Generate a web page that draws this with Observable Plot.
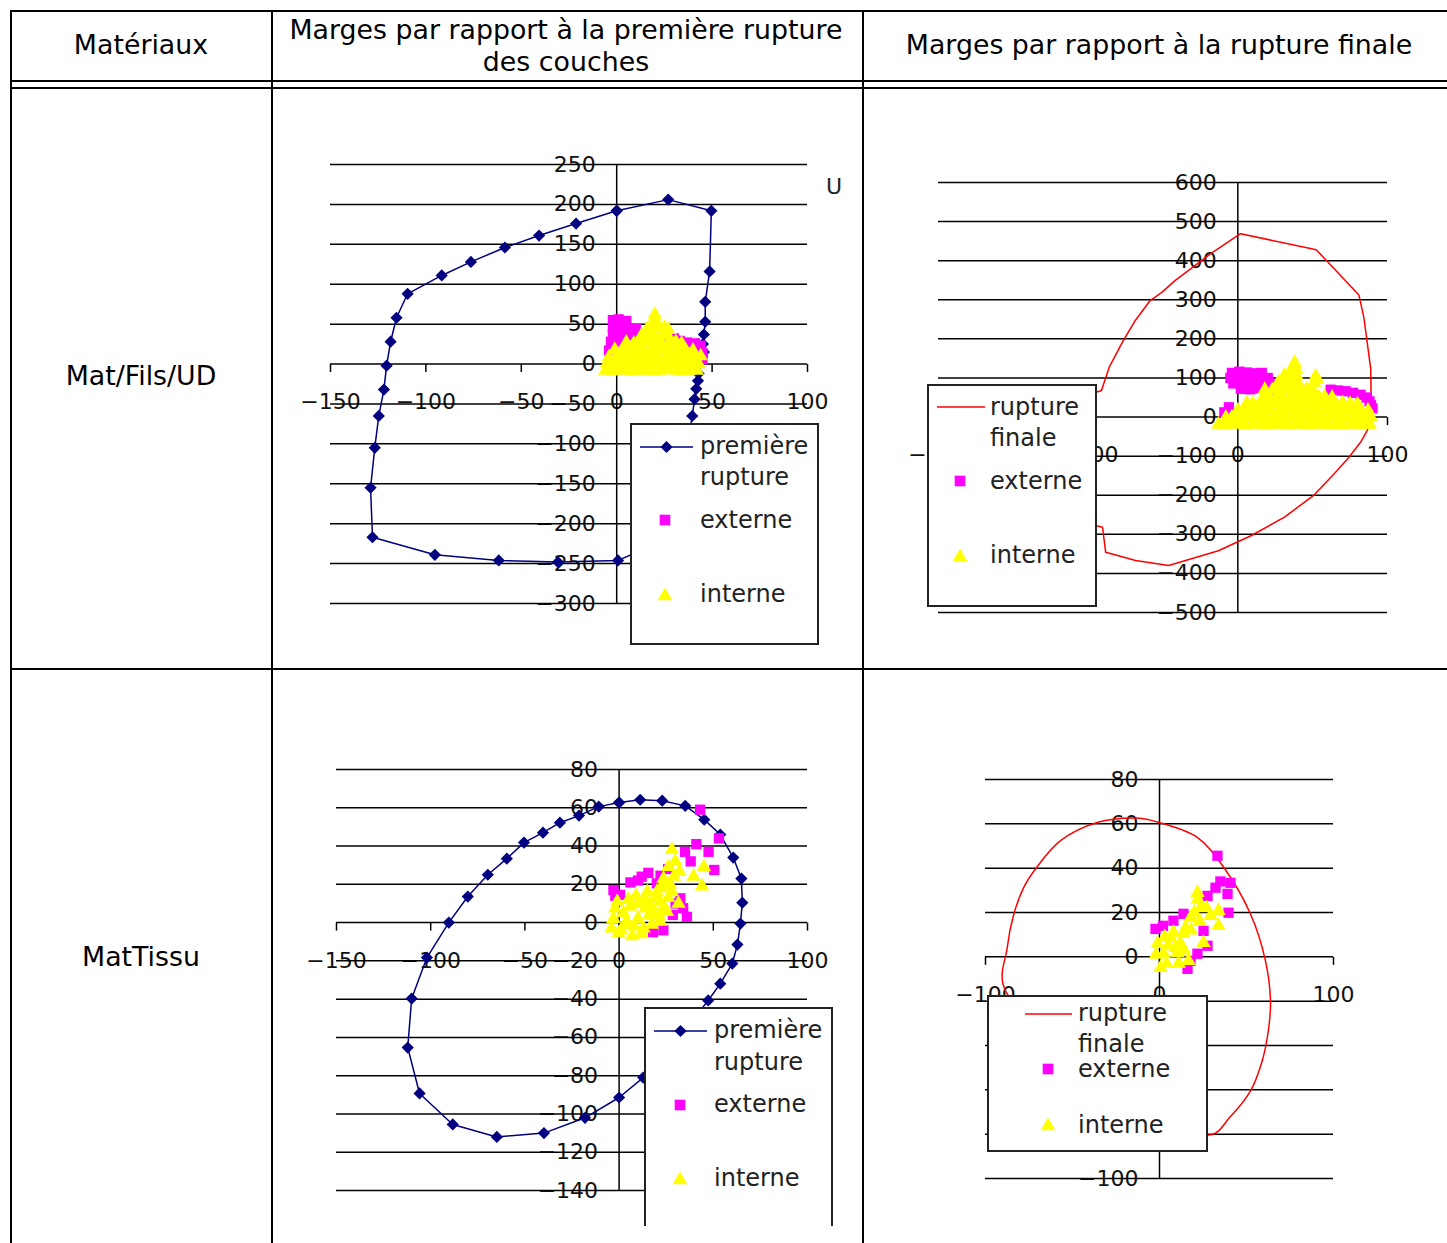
<!DOCTYPE html>
<html>
<head>
<meta charset="utf-8">
<script src="https://cdn.jsdelivr.net/npm/d3@7"></script>
<script src="https://cdn.jsdelivr.net/npm/@observablehq/plot@0.6"></script>
<style>
  body { margin: 0; background: #fff; }
  #page { position: relative; width: 1447px; height: 1243px; overflow: hidden; background: #fff;
          font-family: "DejaVu Sans", Verdana, sans-serif; color: #000; }
  .rule { position: absolute; background: #000; }
  .cell { position: absolute; font-size: 26.8px; line-height: 32px; text-align: center; white-space: nowrap;
          transform: translate(-50%, -50%); }
  .chart, .legend { position: absolute; }
</style>
</head>
<body>
<div id="page"></div>
<script>
// ---------- table text ----------
const headers = ["Matériaux", "Marges par rapport à la première rupture\ndes couches", "Marges par rapport à la rupture finale"];
const materials = ["Mat/Fils/UD", "MatTissu"];

// ---------- Mat/Fils/UD : première rupture ----------
const xTicks1 = [-150, -100, -50, 0, 50, 100];
const yTicks1 = [250, 200, 150, 100, 50, 0, -50, -100, -150, -200, -250, -300];
const premiere1 = [
  [0, 192], [27, 206], [49.6, 192], [48.7, 116], [46.4, 78], [46.4, 53], [45.7, 37], [45.2, 25],
  [45.7, 15], [42.9, -12], [42.6, -21], [41.7, -31], [40.8, -44], [39.6, -65], [34, -150], [24, -222],
  [0.7, -246], [-30.8, -248], [-61.8, -246], [-95.3, -239], [-128, -217], [-129, -155], [-126.8, -105],
  [-124.7, -65], [-122, -32], [-120.6, -2], [-118.5, 28], [-115.4, 58], [-109.6, 88], [-91.7, 111],
  [-76.4, 128], [-58.6, 146], [-40.7, 161], [-21.3, 176], [0, 192]
];
const externe1 = [
  [-2, 55], [1, 56], [5, 54], [-2, 46], [2, 46], [6, 45], [10, 44], [-2, 37], [1, 37], [5, 36], [9, 37],
  [12, 35], [-3, 28], [1, 28], [4, 29], [12, 28], [-4, 17], [18, 30], [23, 25], [30, 32], [33, 29],
  [37, 27], [41, 26], [44, 23], [45, 14], [45, 6]
];
const interne1 = [
  [-6, -8], [-2, -9], [1, -8], [5, -7], [8, -9], [12, -8], [16, -8], [20, -9], [23, -8], [27, -7], [31, -8], [34, -9], [38, -8], [42, -8],
  [-5, 1], [-1, 1], [2, 0], [6, 1], [10, 2], [13, 1], [17, 0], [21, 1], [24, 2], [28, 1], [32, 0], [35, 1], [39, 1], [43, 0],
  [-4, 9], [0, 10], [4, 9], [8, 8], [11, 9], [15, 10], [19, 9], [22, 8], [26, 9], [30, 10], [33, 9], [37, 8], [41, 9], [44, 10],
  [-1, 18], [3, 17], [7, 18], [10, 19], [14, 18], [18, 17], [21, 18], [25, 19], [28, 18], [32, 17], [36, 18], [40, 17],
  [5, 27], [9, 26], [12, 27], [16, 28], [20, 27], [23, 26], [27, 27], [31, 28], [34, 26],
  [13, 36], [16, 35], [20, 36], [24, 37], [27, 35],
  [16, 44], [20, 45], [25, 46], [27, 43],
  [19, 53], [21, 52],
  [20, 62]
];

// ---------- Mat/Fils/UD : rupture finale ----------
const xTicks2 = [-200, -100, 0, 100];
const yTicks2 = [600, 500, 400, 300, 200, 100, 0, -100, -200, -300, -400, -500];
const finale1 = [
  [1.8, 469], [52.4, 428], [80.9, 312], [84.2, 255], [88.8, 123], [89.2, 1], [86.5, -34], [82.1, -64],
  [74.3, -103], [64.4, -145], [51.1, -199], [31.2, -256], [9.1, -303], [-13, -342], [-46.2, -380],
  [-68.3, -367], [-88.3, -346], [-90.4, -282], [-120, -255], [-140, -120], [-130, 20], [-91.1, 68],
  [-86, 127], [-77.2, 191], [-68.5, 247], [-58.6, 298], [-50.8, 319], [-42, 349], [-18.1, 418], [1.8, 469]
];
const externe2 = [
  [-4, 113], [1, 116], [6, 114], [11, 112], [16, 113],
  [-5, 100], [0, 99], [5, 101], [10, 100], [15, 98], [20, 100],
  [-3, 86], [2, 85], [7, 87], [12, 86], [18, 84], [22, 86],
  [2, 72], [8, 71], [14, 73], [20, 72], [25, 70],
  [24, 58], [27, 55], [-6, 25], [-9, 12],
  [62, 70], [67, 68], [72, 66], [77, 62], [82, 57], [86, 50], [88, 40], [89, 30], [90, 22]
];
const interne2 = [
  [-13, -19], [-9, -20], [-4, -18], [1, -19], [5, -21], [10, -19], [15, -18], [19, -20], [24, -19], [29, -18], [33, -20], [38, -19],
  [42, -18], [47, -20], [52, -19], [56, -18], [61, -20], [66, -19], [70, -21], [75, -19], [80, -18], [84, -20], [88, -19],
  [-8, -1], [-4, 0], [1, -2], [5, -1], [10, 0], [15, -1], [19, -2], [24, -1], [29, 0], [33, -1], [38, -2],
  [42, -1], [47, 0], [52, -1], [56, -2], [61, -1], [66, 0], [70, -1], [75, -2], [80, -1], [84, 0], [89, -1],
  [0, 17], [4, 18], [9, 16], [13, 17], [18, 18], [22, 17], [27, 16], [31, 17], [36, 18], [41, 17],
  [45, 16], [50, 17], [54, 18], [59, 17], [64, 16], [68, 17], [73, 18], [77, 17], [82, 16], [87, 17],
  [6, 35], [10, 34], [15, 36], [19, 35], [24, 34], [28, 35], [33, 36], [38, 35], [42, 34],
  [47, 35], [51, 36], [56, 35], [61, 34], [65, 35], [70, 36], [75, 34], [80, 33],
  [17, 52], [21, 51], [26, 53], [30, 52], [35, 51], [40, 52], [44, 53], [49, 52], [54, 51], [58, 52], [63, 50],
  [18, 70], [23, 69], [27, 71], [32, 70], [36, 69], [41, 70], [46, 71], [50, 69],
  [27, 88], [31, 87], [36, 89], [40, 88], [51, 88], [53, 96],
  [31, 106], [35, 105], [39, 107], [52, 104],
  [36, 124], [39, 122],
  [38, 139]
];

// ---------- MatTissu : première rupture ----------
const xTicks3 = [-150, -100, -50, 0, 50, 100];
const yTicks3 = [80, 60, 40, 20, 0, -20, -40, -60, -80, -100, -120, -140];
const premiere2 = [
  [0, 62.7], [11.2, 64.2], [22.9, 63.7], [35.1, 61], [45.2, 53.8], [53.7, 46], [60.6, 34], [64.9, 23],
  [65.4, 10.4], [64.4, -0.5], [62.8, -11.5], [60.1, -21.4], [53.7, -31.9], [47.3, -40.7], [30, -62],
  [12.8, -81], [0, -91.4], [-18.1, -102], [-39.9, -110], [-64.9, -112], [-88.3, -105.5], [-105.9, -89.3],
  [-112.2, -65.3], [-110.1, -39.7], [-102, -18.3], [-90.4, 0], [-80.3, 13.6], [-69.7, 25], [-59.6, 33.4],
  [-50.5, 41.8], [-40.4, 47], [-31.4, 52.2], [-21.3, 55.9], [-10.8, 60.6], [0, 62.7]
];
const externe3 = [
  [43, 59], [41, 41], [53, 44], [47.5, 37], [35, 37], [38, 32], [50.5, 27.5], [-3, 17], [10, 22], [15.5, 26],
  [22, 24.5], [34, 7.5], [28.5, 4], [23.5, -4], [0.5, 14.5], [32.5, 12.7], [20, 20.5], [6, 21], [-2, 14],
  [18, -5], [30, 10], [26, 28], [12, 24], [36, 3]
];
const interne3 = [
  [28, 38], [29.8, 32], [32, 26.6], [45, 29], [44, 19], [39.5, 24], [23.6, 23], [20, 16], [28, 16], [31.5, 10],
  [6, 8.4], [-2, 7.5], [-0.4, -5.6], [10, 2], [17.4, -1], [4, 0.5], [13.8, 7.5], [21.8, 11], [25.4, 5.7],
  [21.8, 0.5], [13, -3], [2.3, 5], [24.5, 19.7], [26.2, 29.2], [5, 12], [9, 14], [14, 12], [17, 9], [8, -2],
  [3, -1], [-3, 2], [-4, -3], [16, 4], [12, -6], [7, -7], [21, 4], [24, 8], [19, 13], [26, 13], [27, 20], [-1, 11],
  [10, 10], [15, 16], [18, 5], [1, -4], [29, 24], [22, 18]
];

// ---------- MatTissu : rupture finale ----------
const xTicks4 = [-100, 0, 100];
const yTicks4 = [80, 60, 40, 20, 0, -20, -40, -60, -80, -100];
const yLabels4 = [80, 60, 40, 20, 0, -100];
const finale2 = [
  [-0.4, 60.6], [21.7, 53.9], [37, 40.3], [52.3, 19.3], [60.9, -1.8], [63.8, -19.9], [62.6, -33], [59, -47],
  [52.3, -60.5], [40.8, -72], [28.2, -80.4], [-88.5, -15.3], [-87.5, 4.2], [-83.7, 19.3], [-78, 31.3],
  [-71.3, 39.6], [-56.9, 52.4], [-35.8, 60.6], [-12.8, 62.6], [-0.4, 60.6]
];
const externe4 = [
  [33.3, 45.6], [40.8, 33.4], [32.2, 31.2], [27.6, 27.5], [39.1, 28.4], [39.7, 19.9], [-2.3, 12.6], [8, 16.3],
  [13.8, 19.4], [25.3, 11.7], [27.6, 5], [21.8, 1.4], [17.8, -1.8], [16.1, -5.4], [35, 34], [2, 14]
];
const interne4 = [
  [21.8, 28.9], [23.6, 22.1], [33.9, 20.8], [33.9, 14], [29.3, 18.5], [17.8, 17.6], [13.8, 10.4], [6.3, 8.6],
  [-1.1, 5.9], [2.3, 1.4], [10.3, 1.8], [0.6, -5], [16.7, -1.8], [25.3, 6.3], [5, 5], [9, 4], [12, 6], [8, 11],
  [3, 9], [14, 3], [11, -3], [4, -3], [-2, 1], [18, 12], [20, 20], [23, 16], [27, 22], [22, 26], [15, 13]
];

// ---------- styling ----------
const NAVY = "#000080", RED = "#ff0000", MAGENTA = "#ff00ff", YELLOW = "#ffff00", INK = "#111";
const FONT = '"DejaVu Sans", Verdana, sans-serif';
const R_DIAMOND = 5.5, R_SQUARE = 5.8, R_TRIANGLE = 5.4;
const fmt = d => d < 0 ? "\u2212" + Math.abs(d) : String(d);
// short downward tick under the horizontal axis
const tickDown = { draw(ctx) { ctx.moveTo(0, 0); ctx.lineTo(0, 8); } };

const page = document.getElementById("page");

function rule(x, y, w, h) {
  const d = document.createElement("div");
  d.className = "rule";
  Object.assign(d.style, { left: x + "px", top: y + "px", width: w + "px", height: h + "px" });
  page.appendChild(d);
}
function cellText(text, cx, cy) {
  const d = document.createElement("div");
  d.className = "cell";
  d.style.left = cx + "px";
  d.style.top = cy + "px";
  d.innerHTML = text.split("\n").join("<br>");
  page.appendChild(d);
}

// table grid
rule(10, 10, 1437, 2);
rule(10, 10, 2, 1233);
rule(271, 10, 2, 1233);
rule(862, 10, 2, 1233);
rule(10, 80, 1437, 2);
rule(10, 87, 1437, 2);
rule(10, 668, 1437, 2);

cellText(headers[0], 141, 45);
cellText(headers[1], 566, 46);
cellText(headers[2], 1159, 45);
cellText(materials[0], 141, 376);
cellText(materials[1], 141, 957);

function chart(cfg) {
  const [x0, x1] = cfg.xDomain, [y0, y1] = cfg.yDomain;
  const marks = [
    Plot.text(cfg.yLabels || cfg.yTicks, { x: () => 0, y: d => d, text: fmt, textAnchor: "end", dx: -21, fontSize: 22, fill: INK }),
    Plot.text(cfg.xTicks, { x: d => d, y: () => 0, text: fmt, dy: 38, fontSize: 22, fill: INK }),
    Plot.ruleY(cfg.yTicks, { y: d => d, x1: () => x0, x2: () => x1, stroke: "#000", strokeWidth: 1.5 }),
    Plot.ruleX([0], { x: d => d, y1: () => y0, y2: () => y1, stroke: "#000", strokeWidth: 1.5 }),
    Plot.dot(cfg.xTicks, { x: d => d, y: () => 0, symbol: tickDown, r: 3, fill: "none", stroke: "#000", strokeWidth: 1.5 }),
    Plot.line(cfg.curve, { x: d => d[0], y: d => d[1], stroke: cfg.curveColor, strokeWidth: 1.5, curve: cfg.curveType || "linear" })
  ];
  if (cfg.diamonds) {
    marks.push(Plot.dot(cfg.curve, { x: d => d[0], y: d => d[1], symbol: "diamond2", r: R_DIAMOND, fill: NAVY }));
  }
  marks.push(
    Plot.dot(cfg.externe, { x: d => d[0], y: d => d[1], symbol: "square", r: R_SQUARE, fill: MAGENTA }),
    Plot.dot(cfg.interne, { x: d => d[0], y: d => d[1], symbol: "triangle", r: R_TRIANGLE, fill: YELLOW })
  );
  const svg = Plot.plot({
    width: cfg.width, height: cfg.height, margin: 0,
    style: { background: "transparent", overflow: "visible", fontFamily: FONT, fontSize: "22px" },
    x: { domain: cfg.xDomain, range: cfg.xRange, axis: null },
    y: { domain: cfg.yDomain, range: cfg.yRange, axis: null },
    marks
  });
  svg.classList.add("chart");
  svg.style.left = cfg.left + "px";
  svg.style.top = cfg.top + "px";
  page.appendChild(svg);
}

function legend(cfg) {
  const svg = d3.create("svg")
    .attr("class", "legend")
    .attr("width", cfg.width).attr("height", cfg.height)
    .style("left", cfg.left + "px").style("top", cfg.top + "px")
    .style("font-family", FONT).style("font-size", "24px");
  const w = cfg.width, h = cfg.height;
  svg.append("rect").attr("x", 0).attr("y", 0).attr("width", w).attr("height", h).attr("fill", "#fff");
  const edge = cfg.open
    ? `M1,${h} V1 H${w - 1} V${h}`
    : `M1,1 H${w - 1} V${h - 1} H1 Z`;
  svg.append("path").attr("d", edge).attr("fill", "none").attr("stroke", "#222").attr("stroke-width", 2);
  const s = cfg.sample;
  svg.append("line").attr("x1", s.x1).attr("x2", s.x2).attr("y1", s.y).attr("y2", s.y)
    .attr("stroke", s.color).attr("stroke-width", 1.5);
  if (s.diamond) {
    svg.append("path").attr("transform", `translate(${(s.x1 + s.x2) / 2},${s.y})`)
      .attr("d", d3.symbol(d3.symbolDiamond2, Math.PI * R_DIAMOND * R_DIAMOND)()).attr("fill", NAVY);
  }
  svg.append("path").attr("transform", `translate(${cfg.sq[0]},${cfg.sq[1]})`)
    .attr("d", d3.symbol(d3.symbolSquare, Math.PI * 36)()).attr("fill", MAGENTA);
  svg.append("path").attr("transform", `translate(${cfg.tri[0]},${cfg.tri[1]})`)
    .attr("d", d3.symbol(d3.symbolTriangle, Math.PI * 30)()).attr("fill", YELLOW);
  for (const [t, x, y] of cfg.labels) {
    svg.append("text").attr("x", x).attr("y", y).attr("dominant-baseline", "central")
      .attr("fill", "#222").text(t);
  }
  page.appendChild(svg.node());
}

// Mat/Fils/UD, première rupture
chart({
  left: 272, top: 88, width: 590, height: 580,
  xDomain: [-150, 100], xRange: [58, 535],
  yDomain: [-300, 250], yRange: [515, 76],
  xTicks: xTicks1, yTicks: yTicks1,
  curve: premiere1, curveColor: NAVY, diamonds: true,
  externe: externe1, interne: interne1
});
// Mat/Fils/UD, rupture finale
chart({
  left: 864, top: 88, width: 583, height: 580,
  xDomain: [-200, 100], xRange: [74, 523],
  yDomain: [-500, 600], yRange: [524, 94],
  xTicks: xTicks2, yTicks: yTicks2,
  curve: finale1, curveColor: RED,
  externe: externe2, interne: interne2
});
// MatTissu, première rupture
chart({
  left: 272, top: 670, width: 590, height: 573,
  xDomain: [-150, 100], xRange: [64, 535],
  yDomain: [-140, 80], yRange: [520, 99],
  xTicks: xTicks3, yTicks: yTicks3,
  curve: premiere2, curveColor: NAVY, diamonds: true,
  externe: externe3, interne: interne3
});
// MatTissu, rupture finale
chart({
  left: 864, top: 670, width: 583, height: 573,
  xDomain: [-100, 100], xRange: [121, 469],
  yDomain: [-100, 80], yRange: [508, 109],
  xTicks: xTicks4, yTicks: yTicks4, yLabels: yLabels4,
  curve: finale2, curveColor: RED, curveType: "catmull-rom",
  externe: externe4, interne: interne4
});

// stray glyph beside the first chart
const glyph = document.createElement("div");
Object.assign(glyph.style, { position: "absolute", left: "826px", top: "174px", fontSize: "22px", color: "#222" });
glyph.textContent = "U";
page.appendChild(glyph);

// legends
const L1 = ["première", "rupture", "externe", "interne"];
const L2 = ["rupture", "finale", "externe", "interne"];
legend({
  left: 630, top: 423, width: 189, height: 222,
  sample: { x1: 10, x2: 63, y: 24, color: NAVY, diamond: true },
  sq: [35, 97], tri: [35, 173],
  labels: [[L1[0], 70, 23], [L1[1], 70, 54], [L1[2], 70, 97], [L1[3], 70, 171]]
});
legend({
  left: 927, top: 384, width: 170, height: 223,
  sample: { x1: 10, x2: 58, y: 23, color: RED },
  sq: [33, 97], tri: [33, 173],
  labels: [[L2[0], 63, 23], [L2[1], 63, 54], [L2[2], 63, 97], [L2[3], 63, 171]]
});
legend({
  left: 644, top: 1007, width: 189, height: 219, open: true,
  sample: { x1: 10, x2: 63, y: 24, color: NAVY, diamond: true },
  sq: [36, 98], tri: [36, 173],
  labels: [[L1[0], 70, 23], [L1[1], 70, 55], [L1[2], 70, 97], [L1[3], 70, 171]]
});
legend({
  left: 987, top: 995, width: 221, height: 157,
  sample: { x1: 38, x2: 85, y: 19, color: RED },
  sq: [61, 74], tri: [61, 131],
  labels: [[L2[0], 91, 18], [L2[1], 91, 49], [L2[2], 91, 74], [L2[3], 91, 130]]
});
</script>
</body>
</html>
